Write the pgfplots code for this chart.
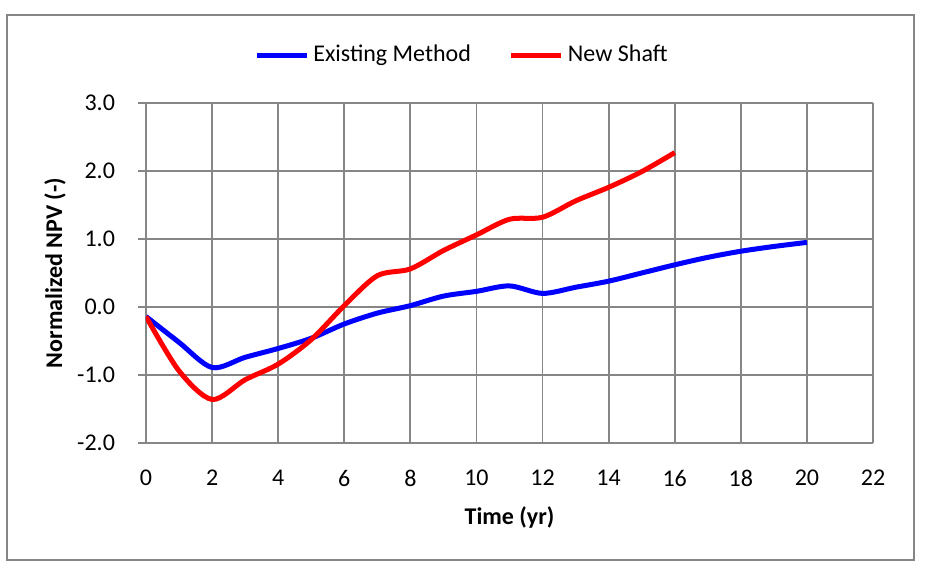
\documentclass[border=0pt]{standalone}
\usepackage{pgfplots}
\pgfplotsset{compat=1.18}
\usepackage{fontspec}
\setmainfont{Carlito}
\definecolor{gridgray}{RGB}{134,134,134}
\begin{document}
\begin{tikzpicture}[x=1pt,y=1pt]
\useasboundingbox (0,0) rectangle (463,285.5);
\draw[gridgray, line width=1pt] (3.5,5.5) rectangle (457,278);
\begin{axis}[
  at={(73pt,64pt)}, anchor=south west,
  scale only axis, width=363.5pt, height=170pt,
  xmin=0, xmax=22, ymin=-2, ymax=3,
  xtick={0,2,...,22}, ytick={-2,-1,0,1,2,3},
  grid=major,
  grid style={gridgray, line width=0.9pt},
  axis line style={gridgray, line width=0.9pt},
  axis x line*=bottom, axis y line*=left,
  tick align=outside,
  xtick style={draw=none},
  ytick style={gridgray, line width=0.9pt},
  major tick length=4pt,
  yticklabel={\pgfmathprintnumber[fixed,fixed zerofill,precision=1]{\tick}},
  /pgf/number format/assume math mode=true,
  ticklabel style={font=\fontsize{12}{14}\selectfont, text=black},
  yticklabel style={xshift=-8pt},
  xticklabel style={yshift=-6pt},
  xlabel={\textbf{Time (yr)}},
  ylabel={\textbf{Normalized NPV (-)}},
  label style={font=\fontsize{12}{14}\selectfont},
  xlabel style={at={(axis description cs:0.5,-0.218)}, anchor=center},
  ylabel style={at={(axis description cs:-0.125,0.5)}, anchor=center},
  legend columns=2,
  legend style={draw=none, fill=none, at={(axis description cs:0.436,1.141)}, anchor=center,
    font=\fontsize{12}{14}\selectfont, /tikz/every even column/.append style={column sep=17pt},
    inner sep=0pt},
  legend image code/.code={\draw[#1, line width=2.5pt] (0pt,0pt) -- (25pt,0pt);},
]
\addplot[blue, line width=2.5pt, smooth, tension=0.5] coordinates {
(0,-0.14) (1,-0.52) (2,-0.89) (3,-0.74) (4,-0.61) (5,-0.46) (6,-0.25) (7,-0.09)
(8,0.02) (9,0.16) (10,0.23) (11,0.31) (12,0.20) (13,0.29) (14,0.38) (15,0.50)
(16,0.62) (17,0.73) (18,0.82) (19,0.89) (20,0.95)};
\addlegendentry{Existing Method}
\addplot[red, line width=2.5pt, smooth, tension=0.5] coordinates {
(0,-0.14) (1,-0.94) (2,-1.36) (3,-1.07) (4,-0.84) (5,-0.48) (6,0.02) (7,0.46)
(8,0.56) (9,0.83) (10,1.06) (11,1.29) (12,1.32) (13,1.56) (14,1.76) (15,1.99) (16,2.27)};
\addlegendentry{New Shaft}
\end{axis}
\end{tikzpicture}
\end{document}
